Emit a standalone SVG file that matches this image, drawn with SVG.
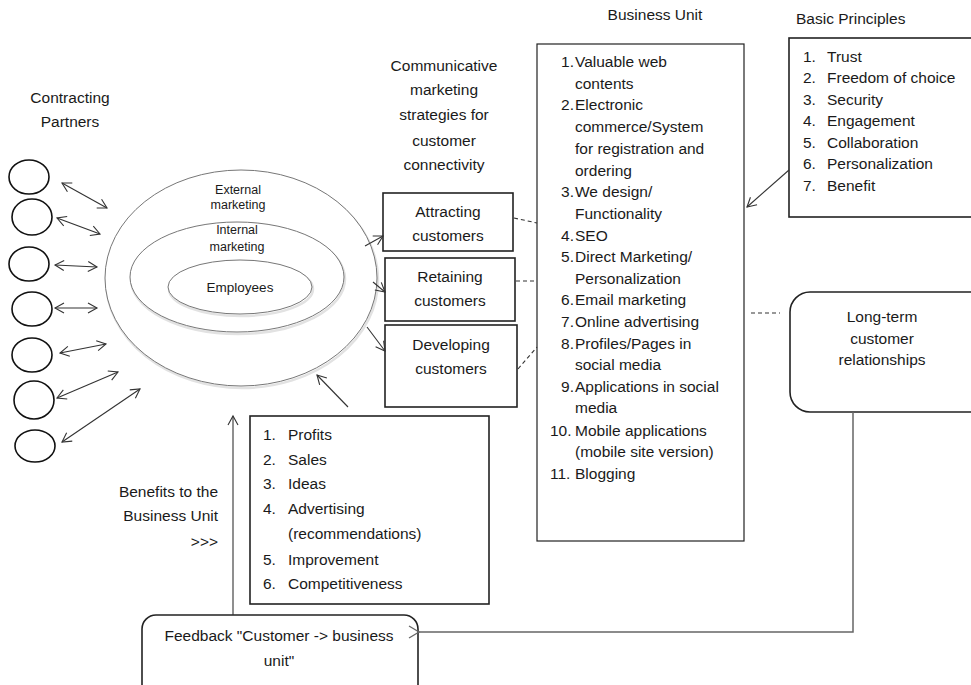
<svg xmlns="http://www.w3.org/2000/svg" width="971" height="685" viewBox="0 0 971 685">
<style>
text{font-family:"Liberation Sans",Arial,sans-serif;font-size:15.5px;fill:#1a1a1a}
.c{text-anchor:middle}
.e{text-anchor:end}
.sm{font-size:12.5px}
.box{fill:#fff;stroke:#222;stroke-width:1.6}
.ell{fill:#fff;stroke:#777;stroke-width:1}
.sh{fill:none;stroke:#e2e2e2;stroke-width:2.5}
.p{fill:none;stroke:#111;stroke-width:1.6}
.ln{fill:none;stroke:#333;stroke-width:1.1}
.dash{fill:none;stroke:#333;stroke-width:1.1;stroke-dasharray:4,3}
</style>
<defs>
<marker id="ah" markerWidth="12" markerHeight="12" refX="10" refY="6" orient="auto-start-reverse" markerUnits="userSpaceOnUse">
<path d="M1,1 L10,6 L1,11" fill="none" stroke="#333" stroke-width="1.1"/>
</marker>
<marker id="ahg" markerWidth="14" markerHeight="14" refX="2" refY="7" orient="auto" markerUnits="userSpaceOnUse">
<path d="M12,1 L2,7 L12,13" fill="none" stroke="#666" stroke-width="1.3"/>
</marker>
</defs>
<rect width="971" height="685" fill="#fff"/>

<g id="labels">
<text class="c" x="70" y="103">Contracting</text>
<text class="c" x="70" y="127">Partners</text>
<text class="c" x="444" y="71">Communicative</text>
<text class="c" x="444" y="95">marketing</text>
<text class="c" x="444" y="120">strategies for</text>
<text class="c" x="444" y="146">customer</text>
<text class="c" x="444" y="170">connectivity</text>
<text class="c" x="655" y="20">Business Unit</text>
<text x="796" y="24">Basic Principles</text>
<text class="e" x="218" y="497">Benefits to the</text>
<text class="e" x="218" y="521">Business Unit</text>
<text class="e" x="218" y="547">&gt;&gt;&gt;</text>
</g>

<g id="partners">
<ellipse class="p" cx="29" cy="177" rx="20" ry="17"/>
<ellipse class="p" cx="32" cy="217" rx="20" ry="18"/>
<ellipse class="p" cx="29" cy="264" rx="20" ry="17"/>
<ellipse class="p" cx="32" cy="309" rx="20" ry="17"/>
<ellipse class="p" cx="32" cy="355" rx="20" ry="17"/>
<ellipse class="p" cx="34" cy="400" rx="20" ry="19"/>
<ellipse class="p" cx="35" cy="446" rx="20" ry="16"/>
</g>

<g id="marketing">
<ellipse class="sh" cx="242" cy="280" rx="136" ry="108"/>
<ellipse class="ell" cx="241" cy="278" rx="136" ry="108"/>
<ellipse class="sh" cx="238" cy="279" rx="107" ry="55"/>
<ellipse class="ell" cx="237" cy="277" rx="107" ry="55"/>
<ellipse class="sh" cx="241" cy="289" rx="72" ry="27"/>
<ellipse class="ell" cx="240" cy="287" rx="72" ry="27"/>
<text class="c sm" x="238" y="194">External</text>
<text class="c sm" x="238" y="209">marketing</text>
<text class="c sm" x="237" y="234">Internal</text>
<text class="c sm" x="237" y="251">marketing</text>
<text class="c" x="240" y="292" style="font-size:13.5px">Employees</text>
</g>

<g id="attracting">
<rect class="box" x="383" y="193" width="130" height="58"/>
<text class="c" x="448" y="217">Attracting</text>
<text class="c" x="448" y="241">customers</text>
</g>
<g id="retaining">
<rect class="box" x="385" y="258" width="130" height="63"/>
<text class="c" x="450" y="282">Retaining</text>
<text class="c" x="450" y="306">customers</text>
</g>
<g id="developing">
<rect class="box" x="385" y="325" width="132" height="82"/>
<text class="c" x="451" y="350">Developing</text>
<text class="c" x="451" y="374">customers</text>
</g>

<g id="business-unit">
<rect x="537" y="44" width="207" height="497" fill="#fff" stroke="#222" stroke-width="1.2"/>
<g class="list">
<text class="e" x="574" y="67">1.</text><text x="575" y="67">Valuable web</text>
<text x="575" y="89">contents</text>
<text class="e" x="574" y="110">2.</text><text x="575" y="110">Electronic</text>
<text x="575" y="132">commerce/System</text>
<text x="575" y="154">for registration and</text>
<text x="575" y="176">ordering</text>
<text class="e" x="574" y="197">3.</text><text x="575" y="197">We design/</text>
<text x="575" y="219">Functionality</text>
<text class="e" x="574" y="241">4.</text><text x="575" y="241">SEO</text>
<text class="e" x="574" y="262">5.</text><text x="575" y="262">Direct Marketing/</text>
<text x="575" y="284">Personalization</text>
<text class="e" x="574" y="305">6.</text><text x="575" y="305">Email marketing</text>
<text class="e" x="574" y="327">7.</text><text x="575" y="327">Online advertising</text>
<text class="e" x="574" y="349">8.</text><text x="575" y="349">Profiles/Pages in</text>
<text x="575" y="370">social media</text>
<text class="e" x="574" y="392">9.</text><text x="575" y="392">Applications in social</text>
<text x="575" y="413">media</text>
<text x="550" y="436">10.</text><text x="575" y="436">Mobile applications</text>
<text x="575" y="457">(mobile site version)</text>
<text x="550" y="479">11.</text><text x="575" y="479">Blogging</text>
</g>
</g>

<g id="basic-principles">
<rect class="box" x="789" y="38" width="190" height="179"/>
<text x="803" y="62">1.</text><text x="827" y="62">Trust</text>
<text x="803" y="83">2.</text><text x="827" y="83">Freedom of choice</text>
<text x="803" y="105">3.</text><text x="827" y="105">Security</text>
<text x="803" y="126">4.</text><text x="827" y="126">Engagement</text>
<text x="803" y="148">5.</text><text x="827" y="148">Collaboration</text>
<text x="803" y="169">6.</text><text x="827" y="169">Personalization</text>
<text x="803" y="191">7.</text><text x="827" y="191">Benefit</text>
</g>

<g id="long-term">
<rect x="790" y="292" width="200" height="120" rx="20" ry="20" fill="#fff" stroke="#222" stroke-width="1.6"/>
<text class="c" x="882" y="322">Long-term</text>
<text class="c" x="882" y="344">customer</text>
<text class="c" x="882" y="365">relationships</text>
</g>

<g id="benefits">
<rect class="box" x="250" y="416" width="239" height="188"/>
<text x="263" y="440">1.</text><text x="288" y="440">Profits</text>
<text x="263" y="465">2.</text><text x="288" y="465">Sales</text>
<text x="263" y="489">3.</text><text x="288" y="489">Ideas</text>
<text x="263" y="514">4.</text><text x="288" y="514">Advertising</text>
<text x="288" y="539">(recommendations)</text>
<text x="263" y="565">5.</text><text x="288" y="565">Improvement</text>
<text x="263" y="589">6.</text><text x="288" y="589">Competitiveness</text>
</g>

<g id="feedback">
<rect x="142" y="615" width="276" height="90" rx="14" ry="14" fill="#fff" stroke="#222" stroke-width="1.6"/>
<text class="c" x="279" y="641">Feedback "Customer -&gt; business</text>
<text class="c" x="279" y="666">unit"</text>
</g>

<g id="connectors">
<line class="ln" x1="62" y1="183" x2="107" y2="208" marker-start="url(#ah)" marker-end="url(#ah)"/>
<line class="ln" x1="57" y1="218" x2="100" y2="234" marker-start="url(#ah)" marker-end="url(#ah)"/>
<line class="ln" x1="55" y1="265" x2="97" y2="267" marker-start="url(#ah)" marker-end="url(#ah)"/>
<line class="ln" x1="55" y1="308" x2="97" y2="308" marker-start="url(#ah)" marker-end="url(#ah)"/>
<line class="ln" x1="60" y1="353" x2="106" y2="344" marker-start="url(#ah)" marker-end="url(#ah)"/>
<line class="ln" x1="57" y1="398" x2="118" y2="372" marker-start="url(#ah)" marker-end="url(#ah)"/>
<line class="ln" x1="62" y1="442" x2="140" y2="389" marker-start="url(#ah)" marker-end="url(#ah)"/>
<line class="ln" x1="365" y1="246" x2="383" y2="236" marker-end="url(#ah)"/>
<line class="ln" x1="373" y1="282" x2="385" y2="292" marker-end="url(#ah)"/>
<line class="ln" x1="367" y1="327" x2="385" y2="351" marker-end="url(#ah)"/>
<line class="ln" x1="348" y1="407" x2="317" y2="375" marker-end="url(#ah)"/>
<line class="ln" x1="233" y1="615" x2="233" y2="416" marker-end="url(#ah)"/>
<line class="ln" x1="789" y1="170" x2="747" y2="207" marker-end="url(#ah)"/>
<line class="dash" x1="514" y1="218" x2="537" y2="223"/>
<line class="dash" x1="516" y1="281" x2="537" y2="281"/>
<line class="dash" x1="518" y1="369" x2="537" y2="347"/>
<line class="dash" x1="751" y1="313" x2="780" y2="313"/>
<path d="M853,412 V632 H419" fill="none" stroke="#666" stroke-width="1.5" marker-end="url(#ahg)"/>
</g>
</svg>
